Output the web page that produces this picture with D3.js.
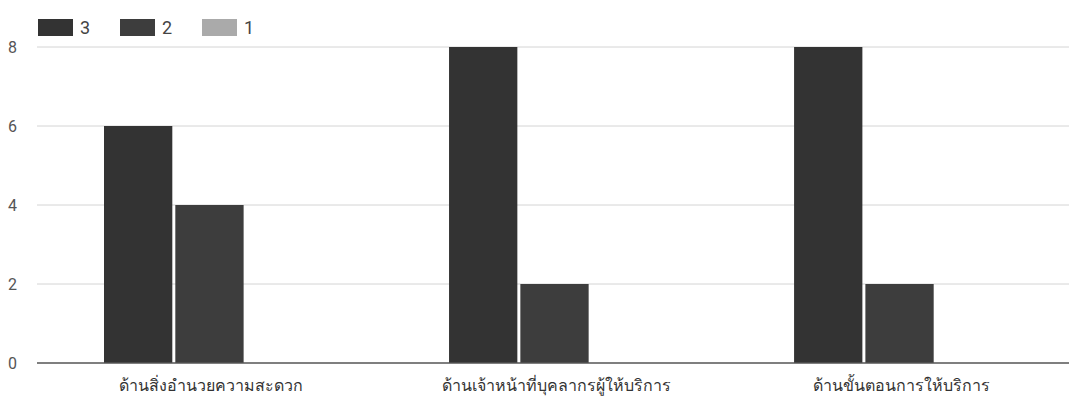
<!DOCTYPE html>
<html>
<head>
<meta charset="utf-8">
<script src="https://cdn.jsdelivr.net/npm/d3@7"></script>
<style>
  body { margin: 0; background: #fff; }
  text { font-family: Roboto, "Noto Sans", "DejaVu Sans", sans-serif; }
</style>
</head>
<body>
<div id="chart"></div>
<script>
// data
var categories = ["ด้านสิ่งอำนวยความสะดวก", "ด้านเจ้าหน้าที่บุคลากรผู้ให้บริการ", "ด้านขั้นตอนการให้บริการ"];
var seriesNames = ["3", "2", "1"];
var values3 = [6, 8, 8];
var values2 = [4, 2, 2];
var values1 = [0, 0, 0];
var yTicks = [0, 2, 4, 6, 8];

var colors = ["#333333", "#3d3d3d", "#aaaaaa"];
var svgWidth = 1069, svgHeight = 403;

var svg = d3.select("#chart").append("svg")
  .attr("width", svgWidth)
  .attr("height", svgHeight);

var x0 = d3.scaleBand()
  .domain(categories)
  .range([35, 1077])
  .paddingInner(0.38)
  .paddingOuter(0.2);

var x1 = d3.scaleBand()
  .domain(seriesNames)
  .range([0, x0.bandwidth()]);

var y = d3.scaleLinear()
  .domain([0, 8])
  .range([363, 47]);

// gridlines
svg.append("g")
  .selectAll("line")
  .data(yTicks.filter(d => d > 0))
  .enter()
  .append("line")
  .attr("x1", 37)
  .attr("x2", svgWidth)
  .attr("y1", d => y(d))
  .attr("y2", d => y(d))
  .attr("stroke", "#d4d4d4")
  .attr("stroke-width", 1);

// y labels
svg.append("g")
  .selectAll("text")
  .data(yTicks)
  .enter()
  .append("text")
  .attr("x", 17)
  .attr("y", d => y(d))
  .attr("dy", "0.35em")
  .attr("text-anchor", "end")
  .attr("font-size", "16px")
  .attr("fill", "#555")
  .text(d => d);

// bars
var rows = categories.map(function (c, i) {
  return { cat: c, vals: [values3[i], values2[i], values1[i]] };
});

var groups = svg.append("g")
  .selectAll("g")
  .data(rows)
  .enter()
  .append("g")
  .attr("transform", d => `translate(${x0(d.cat)},0)`);

groups.selectAll("rect")
  .data(d => d.vals.map((v, j) => ({ key: seriesNames[j], v: v, j: j })))
  .enter()
  .append("rect")
  .attr("x", d => x1(d.key))
  .attr("width", x1.bandwidth() - 3)
  .attr("y", d => y(d.v))
  .attr("height", d => y(0) - y(d.v))
  .attr("fill", d => colors[d.j]);

// baseline
svg.append("line")
  .attr("x1", 37)
  .attr("x2", svgWidth)
  .attr("y1", y(0))
  .attr("y2", y(0))
  .attr("stroke", "#555")
  .attr("stroke-width", 1.5);

// category labels
svg.append("g")
  .selectAll("text")
  .data(categories)
  .enter()
  .append("text")
  .attr("x", d => x0(d) + x0.bandwidth() / 2)
  .attr("y", 391)
  .attr("text-anchor", "middle")
  .attr("font-size", "16px")
  .attr("fill", "#333")
  .text(d => d);

// legend
var legend = svg.append("g")
  .selectAll("g")
  .data(seriesNames)
  .enter()
  .append("g")
  .attr("transform", (d, i) => `translate(${38 + i * 82},0)`);

legend.append("rect")
  .attr("x", 0)
  .attr("y", 19)
  .attr("width", 35)
  .attr("height", 17)
  .attr("fill", (d, i) => colors[i]);

legend.append("text")
  .attr("x", 42)
  .attr("y", 28)
  .attr("dy", "0.35em")
  .attr("font-size", "18px")
  .attr("fill", "#444")
  .text(d => d);
</script>
</body>
</html>
